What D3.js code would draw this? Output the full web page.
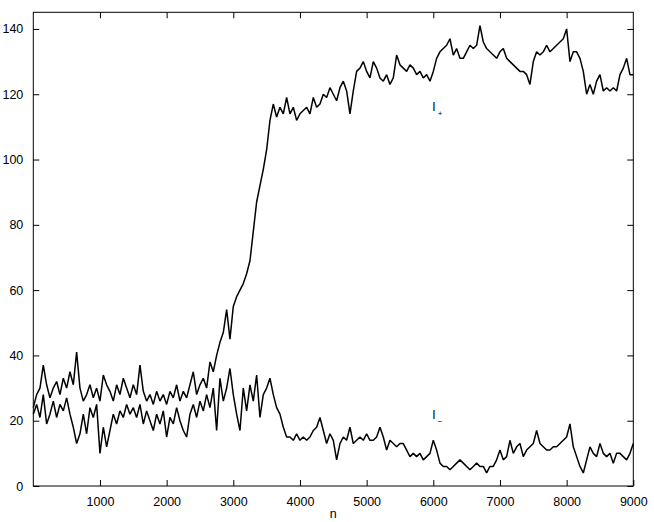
<!DOCTYPE html>
<html>
<head>
<meta charset="utf-8">
<script src="https://cdn.jsdelivr.net/npm/d3@7"></script>
<style>
body { margin: 0; background: #fff; }
text { font-family: "Liberation Sans", Arial, Helvetica, sans-serif; }
</style>
</head>
<body>
<script>
// sample spacing along n
var step = 50;

// I+ (values every 50 n, 0..9000)
var iPlus = [
  24, 28, 30, 37, 31, 27, 30, 32, 28, 33,
  30, 35, 31, 41, 30, 26, 28, 31, 27, 30,
  26, 34, 31, 29, 26, 31, 28, 33, 30, 27,
  31, 28, 37, 29, 26, 28, 25, 29, 26, 28,
  25, 29, 27, 31, 26, 29, 27, 31, 35, 28,
  31, 33, 30, 38, 35, 40, 44, 47, 54, 45,
  55, 58, 60, 62, 65, 69, 78, 87, 92, 97,
  103, 112, 117, 113, 116, 114, 119, 114, 116, 112,
  114, 115, 116, 114, 119, 116, 117, 120, 119, 122,
  120, 118, 122, 124, 121, 114, 121, 127, 128, 130,
  127, 125, 130, 128, 125, 124, 126, 123, 125, 132,
  129, 128, 127, 129, 128, 126, 127, 125, 126, 124,
  127, 131, 133, 134, 135, 137, 132, 134, 131, 131,
  133, 135, 134, 135, 141, 136, 134, 133, 132, 131,
  133, 134, 131, 130, 129, 128, 127, 127, 126, 123,
  130, 133, 132, 133, 135, 133, 134, 135, 136, 137,
  140, 130, 133, 133, 131, 127, 120, 123, 120, 124,
  126, 121, 122, 121, 122, 121, 126, 128, 131, 126,
  126
];

// I- (values every 50 n, 0..9000)
var iMinus = [
  22, 25, 21, 28, 19, 22, 26, 21, 25, 23,
  27, 22, 18, 13, 16, 22, 16, 24, 21, 25,
  10, 18, 12, 17, 22, 19, 23, 21, 25, 22,
  24, 21, 25, 19, 23, 20, 17, 22, 19, 23,
  15, 21, 19, 24, 20, 17, 15, 22, 25, 21,
  26, 23, 28, 24, 30, 17, 33, 26, 30, 36,
  28, 22, 17, 30, 23, 31, 26, 34, 21, 28,
  30, 33, 28, 24, 22, 18, 15, 15, 14, 16,
  14, 15, 14, 15, 17, 18, 21, 17, 13, 16,
  14, 8, 13, 15, 14, 18, 13, 14, 15, 14,
  16, 14, 14, 15, 18, 15, 11, 14, 13, 12,
  13, 13, 11, 9, 10, 9, 10, 8, 9, 10,
  14, 11, 7, 6, 6, 5, 6, 7, 8, 7,
  6, 5, 6, 7, 6, 6, 4, 6, 6, 8,
  11, 8, 9, 14, 10, 12, 13, 9, 11, 12,
  13, 17, 13, 12, 11, 11, 12, 12, 13, 14,
  15, 19, 12, 9, 6, 4, 8, 12, 10, 9,
  13, 10, 9, 10, 7, 10, 10, 9, 8, 10,
  13
];

var xTicks = [1000, 2000, 3000, 4000, 5000, 6000, 7000, 8000, 9000];
var yTicks = [0, 20, 40, 60, 80, 100, 120, 140];

var W = 654, H = 522;
var padL = 33.3, padR = 633.3, padT = 12.3, padB = 486;

var svg = d3.select("body").append("svg")
  .attr("width", W)
  .attr("height", H);

var x = d3.scaleLinear().domain([0, 9000]).range([padL, padR]);
var y = d3.scaleLinear().domain([0, 145.1]).range([padB, padT]);

var line = d3.line()
  .x(function(d, i) { return x(i * step); })
  .y(function(d) { return y(d); });

// data lines
[iMinus, iPlus].forEach(function(s) {
  svg.append("path")
    .datum(s)
    .attr("fill", "none")
    .attr("stroke", "#000")
    .attr("stroke-width", 1.5)
    .attr("stroke-linejoin", "bevel")
    .attr("d", line);
});

// axes (ticks inward on all four sides)
var tl = 6;
var fmt = d3.format("d");
svg.append("g")
  .attr("transform", "translate(0," + padB + ")")
  .call(d3.axisBottom(x).tickValues(xTicks).tickFormat(fmt).tickSizeInner(-tl).tickSizeOuter(0).tickPadding(11));
svg.append("g")
  .attr("transform", "translate(0," + padT + ")")
  .call(d3.axisTop(x).tickValues(xTicks.slice(0, -1)).tickSizeInner(-tl).tickSizeOuter(0).tickFormat(""));
svg.append("g")
  .attr("transform", "translate(" + padL + ",0)")
  .call(d3.axisLeft(y).tickValues(yTicks).tickFormat(fmt).tickSizeInner(-tl).tickSizeOuter(0).tickPadding(10));
svg.append("g")
  .attr("transform", "translate(" + padR + ",0)")
  .call(d3.axisRight(y).tickValues(yTicks).tickSizeInner(-tl).tickSizeOuter(0).tickFormat(""));

svg.selectAll(".tick text")
  .attr("font-size", "12.5px")
  .attr("font-family", "Liberation Sans, Arial, sans-serif")
  .attr("fill", "#000");
svg.selectAll(".domain").remove();
svg.selectAll(".tick line").attr("stroke", "#000");

// frame
svg.append("rect")
  .attr("x", padL)
  .attr("y", padT)
  .attr("width", padR - padL)
  .attr("height", padB - padT)
  .attr("fill", "none")
  .attr("stroke", "#000")
  .attr("stroke-width", 1);

// x label
svg.append("text")
  .attr("x", x(4500))
  .attr("y", 518)
  .attr("text-anchor", "middle")
  .attr("font-size", "12.5px")
  .attr("fill", "#000")
  .text("n");

// I+ / I- labels
var labels = [
  { name: "I", sub: "+", n: 6000, v: 115 },
  { name: "I", sub: "\u2212", n: 6000, v: 20.5 }
];
labels.forEach(function(l) {
  var t = svg.append("text")
    .attr("x", x(l.n) - 1)
    .attr("y", y(l.v))
    .attr("font-size", "12px")
    .attr("fill", "#000")
    .text(l.name);
  t.append("tspan")
    .attr("dx", 2)
    .attr("dy", 5)
    .attr("font-size", "8px")
    .attr("fill", "#000")
    .text(l.sub);
});
</script>
</body>
</html>
